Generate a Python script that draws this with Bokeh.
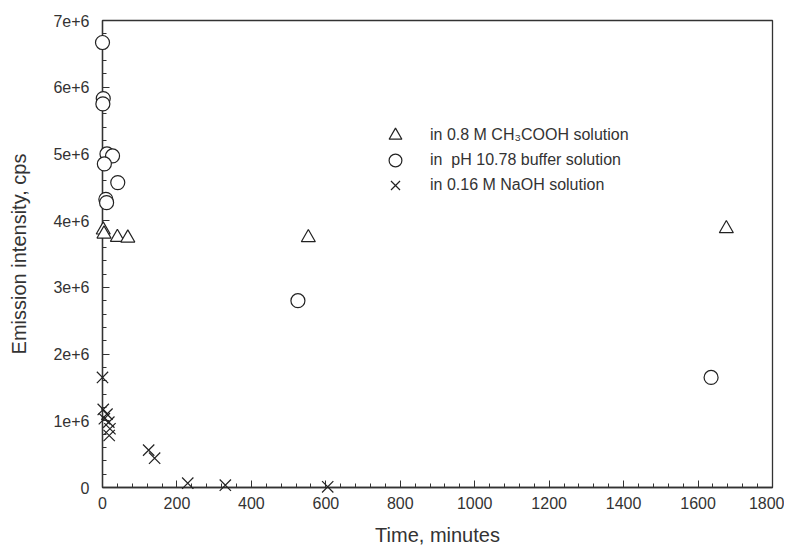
from bokeh.plotting import figure
from bokeh.models import Range1d, SingleIntervalTicker, CustomJSTickFormatter, Legend, LegendItem
from bokeh.embed import file_html
from bokeh.resources import INLINE

# ---- data ----
acid_time = [2, 4, 40, 68, 553, 1676]
acid_int = [3.86e6, 3.80e6, 3.75e6, 3.74e6, 3.745e6, 3.88e6]

buffer_time = [0, 2, 1, 12, 27, 5, 41, 9, 11, 525, 1635]
buffer_int = [6.67e6, 5.83e6, 5.75e6, 5.00e6, 4.97e6, 4.85e6, 4.57e6, 4.32e6, 4.27e6, 2.80e6, 1.65e6]

naoh_time = [0, 2, 12, 5, 17, 20, 18, 124, 140, 229, 330, 605]
naoh_int = [1.65e6, 1.17e6, 1.10e6, 1.03e6, 0.98e6, 0.88e6, 0.78e6, 0.56e6, 0.44e6, 0.065e6, 0.035e6, 0.01e6]

labels = ["in 0.8 M CH\u2083COOH solution", "in  pH 10.78 buffer solution", "in 0.16 M NaOH solution"]

FONT = "Liberation Sans"
INK = "#333333"

p = figure(frame_width=670, frame_height=467, output_backend="svg", toolbar_location=None,
           x_range=Range1d(0, 1800), y_range=Range1d(0, 7e6),
           min_border_left=102, min_border_right=12, min_border_top=20, min_border_bottom=55,
           background_fill_color="white", border_fill_color="white")

p.xgrid.visible = False
p.ygrid.visible = False
p.outline_line_color = INK
p.outline_line_width = 1.3

p.xaxis.ticker = SingleIntervalTicker(interval=200, num_minor_ticks=5)
p.yaxis.ticker = SingleIntervalTicker(interval=1e6, num_minor_ticks=5)
p.yaxis.formatter = CustomJSTickFormatter(code="return tick == 0 ? '0' : Math.round(tick/1e6) + 'e+6';")

for ax in (p.xaxis[0], p.yaxis[0]):
    ax.axis_line_color = INK
    ax.axis_line_width = 1.3
    ax.major_tick_line_color = INK
    ax.minor_tick_line_color = INK
    ax.major_tick_in = 7
    ax.major_tick_out = 0
    ax.minor_tick_in = 4
    ax.minor_tick_out = 0
    ax.major_label_text_font = FONT
    ax.major_label_text_font_size = "16px"
    ax.major_label_text_color = INK
    ax.axis_label_text_font = FONT
    ax.axis_label_text_font_size = "20px"
    ax.axis_label_text_font_style = "normal"
    ax.axis_label_text_color = INK

p.xaxis.axis_label = "Time, minutes"
p.yaxis.axis_label = "Emission intensity, cps"
p.xaxis.major_label_standoff = 9
p.xaxis.axis_label_standoff = 12
p.yaxis.major_label_standoff = 13
p.yaxis.axis_label_standoff = 20

common = dict(line_color="#222222", fill_color="white", line_width=1.2, level="overlay")
r1 = p.scatter(acid_time, acid_int, marker="triangle", size=14, **common)
r2 = p.scatter(buffer_time, buffer_int, marker="circle", size=14, **common)
r3 = p.scatter(naoh_time, naoh_int, marker="x", size=16, line_color="#222222", line_width=1.2, level="overlay")

# one single-row legend per series, stacked 25 px apart
for i, r in enumerate([r1, r2, r3]):
    lg = Legend(items=[LegendItem(label=labels[i], renderers=[r])],
                location=(277, 286 + 25 * (2 - i)), padding=0, margin=0, spacing=0,
                border_line_color=None, background_fill_alpha=0,
                label_text_font=FONT, label_text_font_size="16px", label_text_color=INK,
                label_standoff=19, glyph_width=32, glyph_height=32, label_height=32)
    p.add_layout(lg, "center")

open("out.html", "w").write(file_html(p, INLINE))
